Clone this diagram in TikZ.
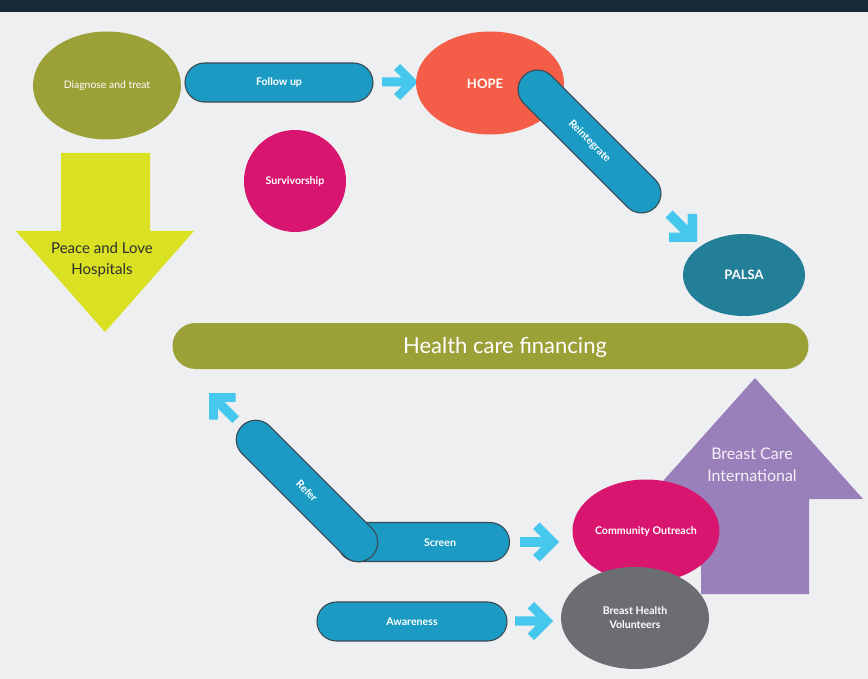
\documentclass[tikz,border=0pt]{standalone}
\usepackage{fontspec}
\setmainfont{Lato}
\usetikzlibrary{shapes.misc,shapes.geometric}
\definecolor{bg}{HTML}{EEEFF1}
\definecolor{topbar}{HTML}{18293A}
\definecolor{olive}{HTML}{9BA037}
\definecolor{pillblue}{HTML}{1B9AC3}
\definecolor{pillborder}{HTML}{3C4A52}
\definecolor{arrowblue}{HTML}{45C7EE}
\definecolor{coral}{HTML}{F45D48}
\definecolor{teal}{HTML}{237E98}
\definecolor{magenta}{HTML}{D8156F}
\definecolor{lime}{HTML}{DAE022}
\definecolor{lilac}{HTML}{9980BA}
\definecolor{slate}{HTML}{6C6D71}
\definecolor{darktext}{HTML}{2E2E2E}
\definecolor{paletext}{HTML}{F4F0F8}
\tikzset{
  pill/.style={rounded rectangle, draw=pillborder, line width=1.1pt, fill=pillblue,
    minimum height=39pt, inner sep=0pt, text=white,
    font=\bfseries\fontsize{10.6}{12}\selectfont},
  blob/.style={ellipse, inner sep=0pt, text=white, align=center,
    font=\bfseries\fontsize{10.6}{14}\selectfont},
  plainlabel/.style={inner sep=0pt, align=center},
  barrow/.pic={\fill[arrowblue] (-36,-4.5) -- (-16.5,-4.5) -- (-24,-12) -- (-18,-18)
     -- (0,0) -- (-18,18) -- (-24,12) -- (-16.5,4.5) -- (-36,4.5) -- cycle;}
}
\begin{document}
\begin{tikzpicture}[x=1pt,y=-1pt]
\useasboundingbox (0,0) rectangle (868,679);
\fill[bg] (0,0) rectangle (868,679);
\fill[topbar] (0,0) rectangle (868,12.5);

% top row
\node[blob, fill=olive, minimum width=148pt, minimum height=108pt,
  font=\fontsize{10.4}{12}\selectfont] (diag) at (107,85.5) {Diagnose and treat};
\node[pill, minimum width=188pt] (follow) at (279,82.5) {Follow up};
\pic at (418,82) {barrow};
\node[blob, fill=coral, minimum width=148pt, minimum height=103pt] (hope) at (490,83) {};
\node[plainlabel, text=white, font=\bfseries\fontsize{13}{14}\selectfont] (hopetext)
  at (485,84) {HOPE};
\node[pill, minimum width=186pt, rotate=-45] (reint) at (589.5,141.5) {Reintegrate};
\pic[rotate=-45, scale=1.1] at (697,242) {barrow};
\node[blob, fill=teal, minimum width=122pt, minimum height=82pt,
  font=\bfseries\fontsize{13}{14}\selectfont] (palsa) at (744,275) {PALSA};
\node[circle, fill=magenta, minimum size=102pt, inner sep=0pt, text=white,
  font=\bfseries\fontsize{10.6}{12}\selectfont] (surv) at (295,181) {Survivorship};

% yellow down arrow
\fill[lime] (61,153) -- (150,153) -- (150,231) -- (194,231) -- (105,332)
  -- (16,231) -- (61,231) -- cycle;
\node[plainlabel, text=darktext, font=\fontsize{15}{21}\selectfont] (peace)
  at (102,259.5) {Peace and Love\\Hospitals};

% financing bar
\node[rounded rectangle, fill=olive, minimum width=636pt, minimum height=46pt,
  inner sep=0pt] (fin) at (490.5,346) {};
\node[plainlabel, text=white, font=\fontsize{22}{26}\selectfont] (fintext)
  at (505,347.5) {Health care financing};

% purple up arrow
\fill[lilac] (701,594) -- (809,594) -- (809,499) -- (863,499) -- (755,378)
  -- (647,499) -- (701,499) -- cycle;
\node[plainlabel, text=paletext, font=\fontsize{16}{22}\selectfont] (bci)
  at (752,465) {Breast Care\\International};

% bottom part
\pic[rotate=135, scale=1.05] at (209,393) {barrow};
\node[pill, minimum width=172pt] (screen) at (423.5,542) {};
\node[plainlabel, text=white, font=\bfseries\fontsize{10.6}{12}\selectfont] (screentext)
  at (440,542.5) {Screen};
\node[pill, minimum width=184pt, rotate=-45] (refer) at (307,491) {Refer};
\pic[scale=1.08] at (559,542) {barrow};
\node[blob, fill=magenta, minimum width=147pt, minimum height=103pt] (outreach)
  at (646,531) {Community Outreach};
\node[blob, fill=slate, minimum width=148pt, minimum height=102pt] (bhv)
  at (635,618) {Breast Health\\Volunteers};
\node[pill, minimum width=190pt] (aware) at (412,621.5) {Awareness};
\pic[scale=1.05] at (553,621) {barrow};
\end{tikzpicture}
\end{document}
